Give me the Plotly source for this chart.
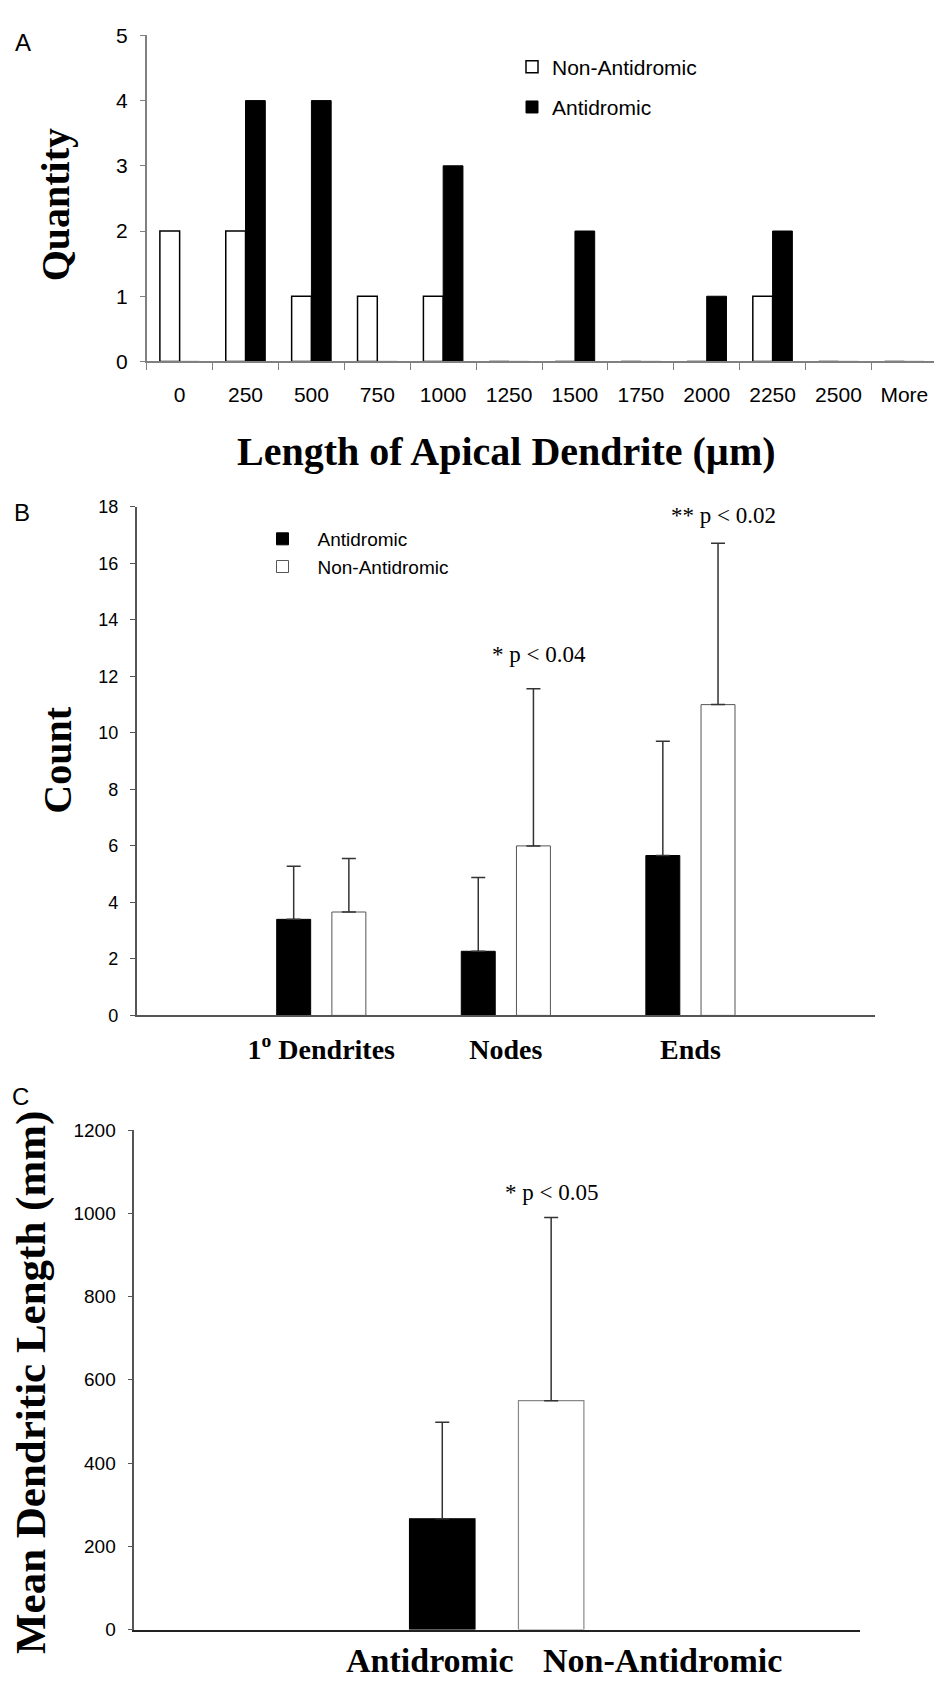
import plotly.graph_objects as go

W, H = 934, 1685

# ---------------- data ----------------
# Panel A: histogram of apical dendrite length
bins_a = ["0", "250", "500", "750", "1000", "1250", "1500", "1750", "2000", "2250", "2500", "More"]
non_antidromic_a = [2, 2, 1, 1, 1, 0, 0, 0, 0, 1, 0, 0]
antidromic_a = [0, 4, 4, 0, 3, 0, 2, 0, 1, 2, 0, 0]

# Panel B: counts (mean + upward SD)
cats_b = ["1<sup>o</sup> Dendrites", "Nodes", "Ends"]
antidromic_b = [3.40, 2.27, 5.66]
antidromic_b_err = [1.88, 2.61, 4.04]
non_antidromic_b = [3.66, 6.00, 11.00]
non_antidromic_b_err = [1.89, 5.56, 5.71]
notes_b = ["", "* p < 0.04", "** p < 0.02"]
notes_b_y = [None, 12.76, 17.7]

# Panel C: mean dendritic length
cats_c = ["Antidromic", "Non-Antidromic"]
mean_len_c = [266, 550]
mean_len_c_err = [232, 440]
note_c = "* p < 0.05"
note_c_y = 1049

SANS = "Liberation Sans, Arial, sans-serif"
SERIF = "Liberation Serif, Times New Roman, serif"


def px(v):
    return v / W


def py(v):
    return 1 - v / H


fig = go.Figure()

# ---------------- Panel A ----------------
fig.add_trace(go.Bar(
    x=bins_a, y=non_antidromic_a, name="Non-Antidromic",
    marker=dict(color="white", line=dict(color="black", width=1.5)),
    width=0.3, offset=-0.3, xaxis="x", yaxis="y",
    legend="legend", legendgroup="a1",
))
fig.add_trace(go.Bar(
    x=bins_a, y=antidromic_a, name="Antidromic",
    marker=dict(color="black", line=dict(color="black", width=1)),
    width=0.3, offset=0.0, xaxis="x", yaxis="y",
    legend="legend", legendgroup="a2",
))

# ---------------- Panel B ----------------
xb = [i + 1 for i in range(len(cats_b))]
fig.add_trace(go.Bar(
    x=xb, y=antidromic_b, name="Antidromic",
    marker=dict(color="black", line=dict(color="black", width=1)),
    error_y=dict(type="data", array=antidromic_b_err, arrayminus=[0] * len(xb),
                 symmetric=False, color="#333333", thickness=1.5, width=7),
    width=0.184, offset=-0.2415, xaxis="x2", yaxis="y2",
    legend="legend2",
))
fig.add_trace(go.Bar(
    x=xb, y=non_antidromic_b, name="Non-Antidromic",
    marker=dict(color="white", line=dict(color="#555555", width=1)),
    error_y=dict(type="data", array=non_antidromic_b_err, arrayminus=[0] * len(xb),
                 symmetric=False, color="#333333", thickness=1.5, width=7),
    width=0.184, offset=0.0575, xaxis="x2", yaxis="y2",
    legend="legend2",
))

# ---------------- Panel C ----------------
fig.add_trace(go.Bar(
    x=cats_c, y=mean_len_c, showlegend=False,
    marker=dict(color=["black", "white"], line=dict(color=["black", "#888888"], width=1.2)),
    error_y=dict(type="data", array=mean_len_c_err, arrayminus=[0] * len(cats_c),
                 symmetric=False, color="#333333", thickness=1.5, width=7),
    width=0.601, xaxis="x3", yaxis="y3",
))

annotations = []
# panel letters
for letter, (lx, ly) in zip("ABC", [(23, 31), (22, 507), (20, 1100)]):
    annotations.append(dict(text=letter, x=px(lx), y=py(ly), xref="paper", yref="paper",
                            showarrow=False, xanchor="center", yanchor="middle",
                            font=dict(family=SANS, size=24, color="black")))

# axis titles
annotations.append(dict(text="Quantity", x=px(55), y=py(196), xref="paper", yref="paper",
                        textangle=-90, showarrow=False, xanchor="center", yanchor="middle",
                        font=dict(family=SERIF, size=40, color="black", weight="bold")))
annotations.append(dict(text="Length of Apical Dendrite (\u00b5m)", x=px(506), y=py(446),
                        xref="paper", yref="paper", showarrow=False,
                        xanchor="center", yanchor="middle",
                        font=dict(family=SERIF, size=40, color="black", weight="bold")))
annotations.append(dict(text="Count", x=px(58), y=py(759), xref="paper", yref="paper",
                        textangle=-90, showarrow=False, xanchor="center", yanchor="middle",
                        font=dict(family=SERIF, size=40, color="black", weight="bold")))
annotations.append(dict(text="Mean Dendritic Length (mm)", x=px(31), y=py(1390),
                        xref="paper", yref="paper", textangle=-90, showarrow=False,
                        xanchor="center", yanchor="middle",
                        font=dict(family=SERIF, size=43, color="black", weight="bold")))
# panel C category labels
for lab, lx in zip(cats_c, [429, 662]):
    annotations.append(dict(text=lab, x=px(lx), y=py(1671), xref="paper", yref="paper",
                            showarrow=False, xanchor="center", yanchor="middle",
                            font=dict(family=SERIF, size=34, color="black", weight="bold")))

# significance notes
for i, (note, ny) in enumerate(zip(notes_b, notes_b_y)):
    if note:
        annotations.append(dict(text=note, x=xb[i] + 0.18, y=ny, xref="x2", yref="y2",
                                showarrow=False, xanchor="center", yanchor="middle",
                                font=dict(family=SERIF, size=23, color="black")))
annotations.append(dict(text=note_c, x=cats_c[1], y=note_c_y, xref="x3", yref="y3",
                        showarrow=False, xanchor="center", yanchor="middle",
                        font=dict(family=SERIF, size=23, color="black")))

fig.update_layout(
    width=W, height=H, autosize=False,
    margin=dict(l=0, r=0, t=0, b=0),
    paper_bgcolor="white", plot_bgcolor="white",
    barmode="overlay",
    annotations=annotations,
    xaxis=dict(domain=[px(146.7), 1.0], type="category", range=[-0.5, 11.45],
               showline=True, linecolor="#808080", linewidth=1.5,
               ticks="outside", tickson="boundaries", ticklen=7, tickcolor="#808080",
               tickfont=dict(family=SANS, size=21, color="black"), ticklabelstandoff=14,
               showgrid=False, zeroline=False, anchor="y"),
    yaxis=dict(domain=[py(354.3), py(23.7)], range=[0, 5], dtick=1,
               showline=True, linecolor="#808080", linewidth=1.5,
               ticks="outside", ticklen=5, tickcolor="#808080",
               tickfont=dict(family=SANS, size=21, color="black"), ticklabelstandoff=8,
               showgrid=False, zeroline=False, anchor="x"),
    xaxis2=dict(domain=[px(136.7), px(875)], range=[0, 4],
                tickvals=xb, ticktext=cats_b, ticks="",
                showline=True, linecolor="#555555", linewidth=1.5,
                tickfont=dict(family=SERIF, size=28, color="black", weight="bold"),
                ticklabelstandoff=8,
                showgrid=False, zeroline=False, anchor="y2"),
    yaxis2=dict(domain=[py(1017.3), py(501.7)], range=[0, 18], dtick=2,
                showline=True, linecolor="#555555", linewidth=1.5,
                ticks="outside", ticklen=5, tickcolor="#555555",
                tickfont=dict(family=SANS, size=18, color="black"), ticklabelstandoff=8,
                showgrid=False, zeroline=False, anchor="x2"),
    xaxis3=dict(domain=[px(134.3), px(860)], type="category", range=[-2.828, 3.836],
                showticklabels=False, ticks="",
                showline=True, linecolor="#222222", linewidth=1.5,
                showgrid=False, zeroline=False, anchor="y3"),
    yaxis3=dict(domain=[py(1640), py(1133.5)], range=[0, 1200], dtick=200,
                showline=True, linecolor="#555555", linewidth=1.5,
                ticks="outside", ticklen=5, tickcolor="#555555",
                tickfont=dict(family=SANS, size=19, color="black"), ticklabelstandoff=8,
                showgrid=False, zeroline=False, anchor="x3"),
    legend=dict(x=px(512), y=py(35), xanchor="left", yanchor="top",
                font=dict(family=SANS, size=21, color="black"),
                bgcolor="rgba(0,0,0,0)", tracegroupgap=10, traceorder="grouped"),
    legend2=dict(x=px(247.5), y=py(515), xanchor="left", yanchor="top",
                 font=dict(family=SANS, size=19, color="black"),
                 bgcolor="rgba(0,0,0,0)", tracegroupgap=0, itemwidth=60),
)

fig.write_html("out.html", config={"displayModeBar": False},
               post_script="document.body.style.margin='0px';")
